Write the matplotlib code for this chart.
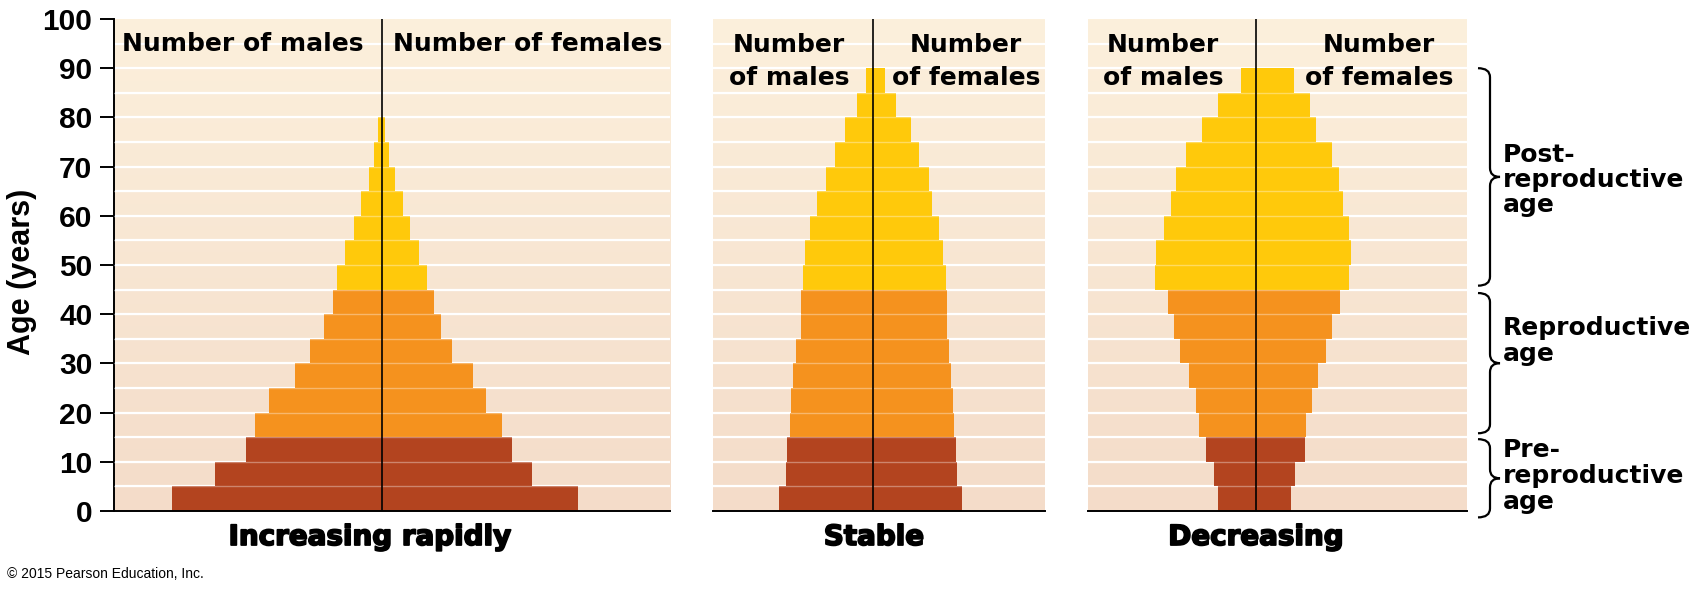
import matplotlib
matplotlib.use("Agg")
import matplotlib.pyplot as plt
import matplotlib.patheffects as pe
from matplotlib.colors import LinearSegmentedColormap
from matplotlib.path import Path
from matplotlib.patches import PathPatch
import numpy as np

W, H = 1693, 590

# lower edge of each 5-year age band
AGE_BANDS = list(range(0, 90, 5))

# half-widths of the bars (arbitrary units), males to the left, females to the right
RAPID_MALES = [210, 167, 136, 127, 113, 87, 72, 58, 49, 45, 37, 28, 21, 13, 8, 4, 0, 0]
RAPID_FEMALES = [196, 150, 130, 120, 104, 91, 70, 59, 52, 45, 37, 28, 21, 13, 7, 3, 0, 0]
STABLE_MALES = [94, 87, 86, 83, 82, 80, 77, 72, 72, 70, 68, 63, 56, 47, 38, 28, 16, 7]
STABLE_FEMALES = [89, 84, 83, 81, 80, 78, 76, 74, 74, 73, 70, 66, 59, 56, 46, 38, 23, 12]
DECR_MALES = [38, 42, 50, 57, 60, 67, 76, 82, 88, 101, 100, 92, 85, 80, 70, 54, 38, 15]
DECR_FEMALES = [35, 39, 49, 50, 56, 62, 70, 76, 84, 93, 95, 93, 87, 83, 76, 60, 54, 38]

PANEL_TITLES = ["Increasing rapidly", "Stable", "Decreasing"]
Y_TICKS = list(range(0, 101, 10))

PRE_COLOR = "#B3441F"
REPRO_COLOR = "#F5921E"
POST_COLOR = "#FFC90B"
BG_TOP = "#FCF0DC"
BG_BOTTOM = "#F4DCC9"

BOLD_FONT = "DejaVu Sans"
NUM_FONT = ["Liberation Sans", "DejaVu Sans"]

# panel extents in pixels: left, right, and x-range
PANELS = [
    (114.5, 670, (-268, 288)),
    (713, 1045, (-160, 172)),
    (1088, 1467, (-168, 211)),
]
AX_TOP, AX_BOTTOM = 19, 511


def band_color(age):
    if age < 15:
        return PRE_COLOR
    if age < 45:
        return REPRO_COLOR
    return POST_COLOR


def draw_panel(ax, males, females, xlim):
    ax.set_xlim(*xlim)
    ax.set_ylim(0, 100)
    cmap = LinearSegmentedColormap.from_list("bg", [BG_BOTTOM, BG_TOP])
    grad = np.linspace(0, 1, 256).reshape(-1, 1)
    ax.imshow(grad, extent=[xlim[0], xlim[1], 0, 100], origin="lower",
              aspect="auto", cmap=cmap, zorder=0)
    for y in range(5, 100, 5):
        ax.axhline(y, color="white", lw=1.6, zorder=1)

    colors = [band_color(a) for a in AGE_BANDS]
    ax.barh(AGE_BANDS, [-m for m in males], height=5, align="edge",
            color=colors, linewidth=0, zorder=2)
    ax.barh(AGE_BANDS, females, height=5, align="edge",
            color=colors, linewidth=0, zorder=2)
    for y in range(5, 90, 5):
        ax.axhline(y, color="white", lw=1.0, alpha=0.35, zorder=3)

    ax.axvline(0, color="black", lw=1.2, zorder=4)
    for side in ["top", "right", "left"]:
        ax.spines[side].set_visible(False)
    ax.spines["bottom"].set_linewidth(1.4)
    ax.spines["bottom"].set_zorder(5)
    ax.set_xticks([])
    ax.set_yticks([])


fig = plt.figure(figsize=(W / 100, H / 100), dpi=100)

data = [(RAPID_MALES, RAPID_FEMALES), (STABLE_MALES, STABLE_FEMALES),
        (DECR_MALES, DECR_FEMALES)]
axes = []
for (x0, x1, xlim), (m, f) in zip(PANELS, data):
    ax = fig.add_axes([x0 / W, (H - AX_BOTTOM) / H, (x1 - x0) / W,
                       (AX_BOTTOM - AX_TOP) / H])
    draw_panel(ax, m, f, xlim)
    axes.append(ax)

ax0 = axes[0]
ax0.spines["left"].set_visible(True)
ax0.spines["left"].set_linewidth(1.4)
ax0.set_yticks(Y_TICKS, [str(t) for t in Y_TICKS], fontfamily=NUM_FONT,
               fontweight="bold", fontsize=21.5)
ax0.tick_params(axis="y", length=10, width=1.4, pad=6)

# overlay in pixel coordinates for the free texts and braces
ov = fig.add_axes([0, 0, 1, 1], zorder=10)
ov.set_xlim(0, W)
ov.set_ylim(H, 0)
ov.axis("off")
ov.patch.set_visible(False)

ov.text(22, 272, "Age (years)", rotation=90, ha="center", va="center",
        fontfamily=NUM_FONT, fontweight="bold", fontsize=22)

hdr = dict(fontfamily=BOLD_FONT, fontweight="bold", fontsize=18, va="baseline")
ov.text(364, 51, "Number of males", ha="right", **hdr)
ov.text(393, 51, "Number of females", ha="left", **hdr)
for cx, lines in [(789, ["Number", "of males"]), (966, ["Number", "of females"]),
                  (1163, ["Number", "of males"]), (1379, ["Number", "of females"])]:
    ov.text(cx, 52, lines[0], ha="center", **hdr)
    ov.text(cx, 85, lines[1], ha="center", **hdr)

heavy = [pe.withStroke(linewidth=1.3, foreground="black")]
ttl = dict(fontfamily=BOLD_FONT, fontweight="bold", fontsize=20, va="baseline",
           ha="center", path_effects=heavy)
for cx, t in zip([370, 874, 1256], PANEL_TITLES):
    ov.text(cx, 545, t, **ttl)

ov.text(7, 578, "\u00a9 2015 Pearson Education, Inc.", fontfamily=NUM_FONT,
        fontsize=10, va="baseline", ha="left")


def age_px(age):
    return AX_BOTTOM - (AX_BOTTOM - AX_TOP) * age / 100


def brace(yt, yb, x0=1478, xs=1490, xt=1500, r=9):
    ym = (yt + yb) / 2
    verts = [(x0, yt), (xs, yt), (xs, yt + r),
             (xs, ym - r), (xs, ym), (xt, ym),
             (xs, ym), (xs, ym + r),
             (xs, yb - r), (xs, yb), (x0, yb)]
    codes = [Path.MOVETO, Path.CURVE3, Path.CURVE3,
             Path.LINETO, Path.CURVE3, Path.CURVE3,
             Path.CURVE3, Path.CURVE3,
             Path.LINETO, Path.CURVE3, Path.CURVE3]
    ov.add_patch(PathPatch(Path(verts, codes), fill=False, lw=1.6,
                           edgecolor="black"))


brace(age_px(90), age_px(45.8))
brace(age_px(44.3), age_px(15.8))
brace(age_px(14.6), age_px(-1.3))

ann = dict(fontfamily=BOLD_FONT, fontweight="bold", fontsize=18,
           va="baseline", ha="left")
for y, t in [(162, "Post-"), (187, "reproductive"), (212, "age"),
             (335, "Reproductive"), (361, "age"),
             (457, "Pre-"), (483, "reproductive"), (509, "age")]:
    ov.text(1503, y, t, **ann)

fig.savefig("out.png", dpi=100)
